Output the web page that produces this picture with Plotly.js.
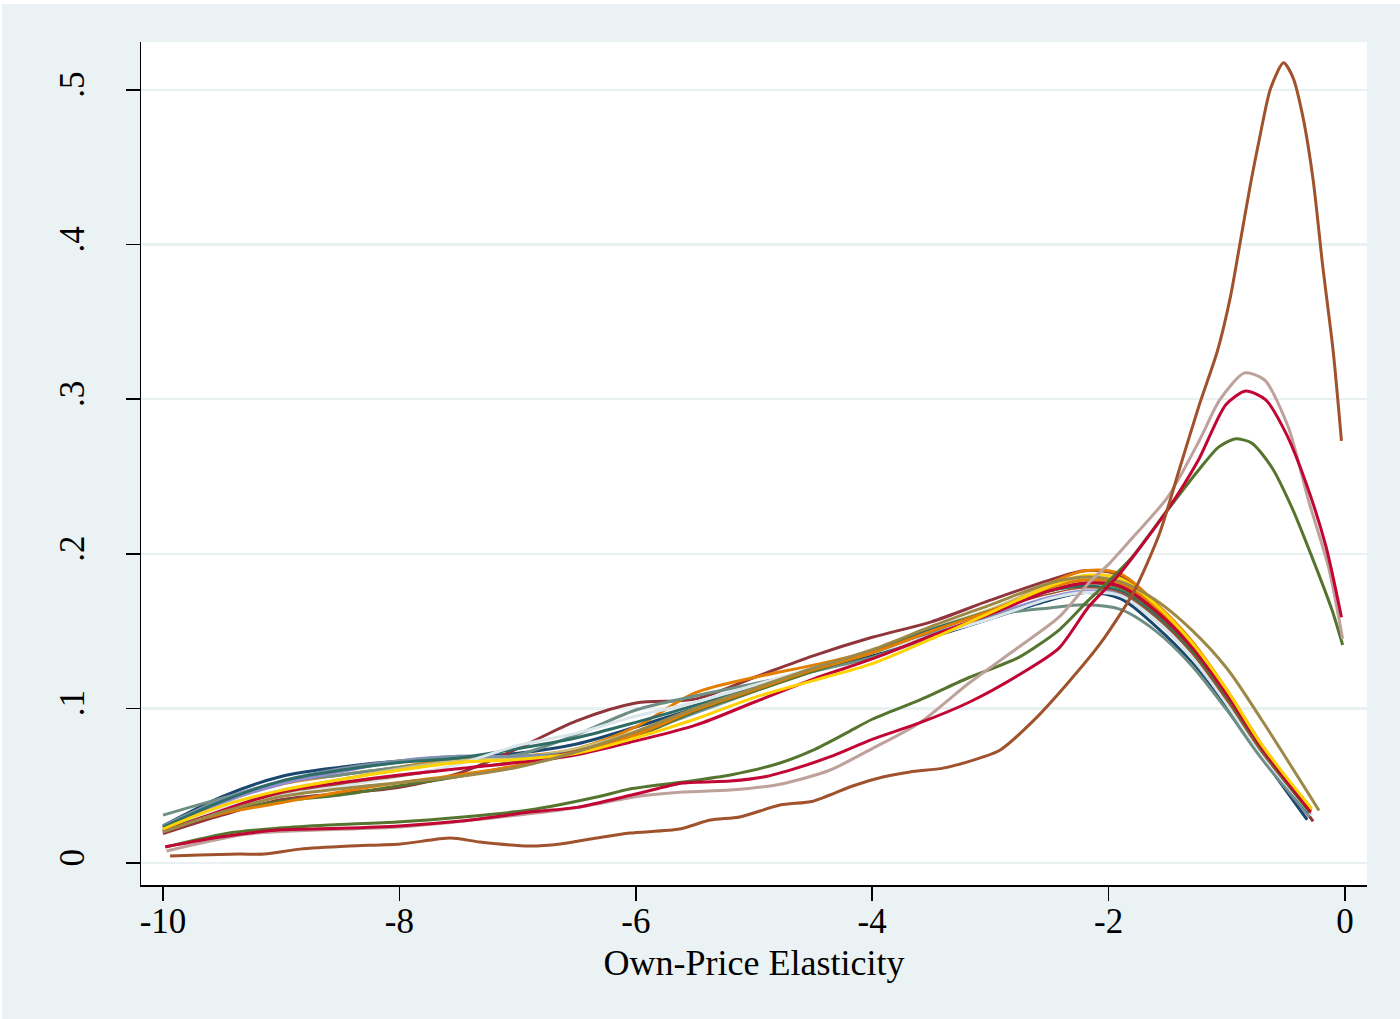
<!DOCTYPE html>
<html>
<head>
<meta charset="utf-8">
<script src="https://cdn.plot.ly/plotly-3.0.1.min.js"></script>
<style>
  html, body { margin: 0; padding: 0; background: #ffffff; }
  #chart { position: absolute; left: 2px; top: 4px; width: 1398px; height: 1015px; }
</style>
</head>
<body>
<div id="chart"></div>
<script>
// ---- Data ----
const xTickVals = [-10, -8, -6, -4, -2, 0];
const xTickText = ['-10', '-8', '-6', '-4', '-2', '0'];
const yTickVals = [0, 0.1, 0.2, 0.3, 0.4, 0.5];
const yTickText = ['0', '.1', '.2', '.3', '.4', '.5'];

// common elasticity grid for the bundled densities (last point replaced by each series' end)
const clusterX = [-10, -9.5, -9, -8.5, -8, -7.5, -7, -6.5, -6, -5.5, -5, -4.5, -4, -3.5, -3, -2.5, -2.2, -1.9, -1.6, -1.3, -1, -0.7, -0.3];

const navyY      = [.024,.043,.056,.062,.066,.068,.071,.077,.088,.100,.112,.124,.134,.146,.158,.170,.175,.171,.153,.130,.100,.068,.028];
const maroonY    = [.019,.031,.041,.045,.049,.058,.074,.092,.1035,.106,.120,.134,.146,.156,.170,.183,.189,.186,.165,.141,.110,.074,.027];
const dkorangeY  = [.023,.041,.051,.057,.062,.068,.069,.074,.088,.110,.120,.128,.137,.151,.163,.181,.189,.187,.168,.144,.112,.076,.034];
const tealY      = [.031,.042,.052,.057,.062,.066,.070,.083,.099,.108,.116,.124,.133,.146,.160,.165,.167,.164,.150,.128,.099,.067,.030];
const lavenderY  = [.022,.039,.051,.059,.066,.069,.069,.072,.082,.098,.112,.126,.136,.148,.160,.172,.176,.174,.158,.135,.104,.070,.031];
const khakiY     = [.021,.037,.047,.054,.061,.066,.068,.074,.085,.099,.113,.125,.137,.151,.164,.179,.183,.180,.164,.141,.110,.074,.033];
const emidblueY  = [.024,.041,.053,.061,.066,.069,.069,.072,.083,.097,.111,.125,.136,.148,.159,.171,.175,.173,.157,.134,.103,.070,.031];
const emeraldY   = [.023,.040,.053,.060,.065,.068,.074,.081,.091,.102,.114,.126,.137,.151,.163,.176,.179,.176,.160,.137,.106,.071,.032];
const brownY     = [.020,.033,.043,.048,.052,.056,.062,.072,.085,.100,.113,.126,.138,.153,.167,.181,.185,.182,.170,.151,.126,.092,.034];
const goldY      = [.022,.037,.047,.054,.060,.065,.067,.071,.081,.093,.107,.118,.129,.145,.162,.179,.186,.184,.167,.143,.112,.076,.035];
const bluishgrayY= [.021,.036,.044,.050,.056,.064,.076,.084,.095,.104,.115,.126,.136,.147,.158,.171,.175,.173,.157,.134,.103,.070,.031];
const cranberry2Y= [.020,.034,.046,.052,.057,.061,.065,.070,.079,.089,.104,.119,.132,.147,.161,.176,.181,.179,.163,.140,.109,.074,.033];
const dkorange2Y = [.021,.032,.039,.046,.052,.057,.063,.072,.083,.099,.112,.125,.136,.150,.163,.178,.183,.181,.165,.142,.110,.075,.034];
const green2Y    = [.021,.033,.040,.044,.050,.056,.063,.071,.082,.098,.111,.124,.136,.150,.163,.176,.181,.178,.162,.139,.108,.073,.033];
const sienna2Y   = [.020,.034,.045,.051,.056,.061,.066,.073,.084,.098,.111,.124,.136,.150,.163,.174,.178,.175,.159,.136,.105,.071,.032];

const clusterSeries = [
  {name: 'navy',       color: '#1a476f', y: navyY,       endX: -0.32, w: 3},
  {name: 'maroon',     color: '#90353b', y: maroonY,     endX: -0.27, w: 3},
  {name: 'dkorange',   color: '#e37e00', y: dkorangeY,   endX: -0.29, w: 3},
  {name: 'teal',       color: '#6e8e84', y: tealY,       endX: -0.30, w: 3},
  {name: 'lavender',   color: '#938dd2', y: lavenderY,   endX: -0.30, w: 3},
  {name: 'khaki',      color: '#cac27e', y: khakiY,      endX: -0.29, w: 3},
  {name: 'emidblue',   color: '#7b92a8', y: emidblueY,   endX: -0.30, w: 3},
  {name: 'emerald',    color: '#2d6d66', y: emeraldY,    endX: -0.30, w: 3},
  {name: 'bluishgray', color: '#d9e6eb', y: bluishgrayY, endX: -0.28, w: 3},
  {name: 'sienna2',    color: '#a0522d', y: sienna2Y,    endX: -0.29, w: 1.5},
  {name: 'green2',     color: '#55752f', y: green2Y,     endX: -0.30, w: 3},
  {name: 'dkorange2',  color: '#e37e00', y: dkorange2Y,  endX: -0.29, w: 3},
  {name: 'cranberry2', color: '#c10534', y: cranberry2Y, endX: -0.29, w: 3},
  {name: 'gold',       color: '#ffd200', y: goldY,       endX: -0.28, w: 3},
  {name: 'brown',      color: '#9c8847', y: brownY,      endX: -0.22, w: 3}
];

// the four densities that peak near zero
const greenX = [-9.98,-9.44,-9.02,-8.6,-8.02,-7.46,-6.9,-6.33,-6.05,-5.6,-5.2,-4.78,-4.5,-4.22,-4.0,-3.6,-3.18,-2.76,-2.42,-2.17,-1.99,-1.80,-1.52,-1.24,-1.07,-0.93,-0.79,-0.62,-0.45,-0.28,-0.11,-0.02];
const greenY = [.0103,.0194,.0226,.0246,.0265,.0298,.0343,.0427,.0479,.0524,.0569,.0647,.073,.084,.093,.1054,.120,.133,.1507,.170,.183,.198,.2264,.254,.269,.2743,.2717,.256,.230,.198,.1636,.141];

const cranberryX = [-9.98,-9.5,-9.0,-8.5,-8.0,-7.5,-7.2,-6.9,-6.5,-6.0,-5.6,-5.2,-4.92,-4.64,-4.36,-4.0,-3.6,-3.18,-2.76,-2.42,-2.17,-1.90,-1.52,-1.24,-1.01,-0.84,-0.67,-0.50,-0.33,-0.16,-0.03];
const cranberryY = [.0105,.017,.0215,.0225,.024,.027,.0298,.033,.036,.0446,.0517,.053,.0556,.0614,.0686,.080,.0906,.104,.1216,.139,.1656,.1876,.2264,.2607,.2963,.3053,.2995,.278,.2458,.2044,.159];

const eroseX = [-9.97,-9.28,-8.0,-7.23,-6.52,-5.96,-5.6,-5.2,-4.78,-4.36,-4.0,-3.6,-3.18,-2.76,-2.42,-2.17,-1.99,-1.79,-1.50,-1.23,-1.06,-0.85,-0.68,-0.48,-0.31,-0.14,-0.02];
const eroseY = [.0078,.0188,.0233,.029,.0356,.0433,.0459,.0472,.051,.060,.074,.0906,.1164,.1397,.159,.181,.194,.211,.2367,.2736,.2995,.317,.3124,.282,.2348,.1915,.145];

const siennaX = [-9.94,-9.69,-9.35,-9.14,-8.84,-8.42,-7.99,-7.57,-7.32,-6.90,-6.64,-6.33,-6.05,-5.63,-5.37,-5.12,-4.78,-4.50,-4.16,-3.91,-3.68,-3.40,-3.20,-2.92,-2.64,-2.35,-2.07,-1.79,-1.57,-1.40,-1.23,-1.08,-0.97,-0.89,-0.80,-0.72,-0.63,-0.52,-0.44,-0.36,-0.27,-0.19,-0.10,-0.03];
const siennaY = [.0045,.0052,.0058,.0058,.009,.011,.0123,.0162,.0136,.011,.0123,.0162,.0194,.022,.0278,.0298,.0375,.040,.050,.0556,.0589,.0614,.0653,.073,.0918,.116,.142,.175,.213,.255,.297,.331,.366,.400,.439,.470,.501,.5175,.508,.484,.442,.387,.331,.273];

const specialSeries = [
  {name: 'forest_green', color: '#55752f', x: greenX,     y: greenY},
  {name: 'erose',        color: '#bfa19c', x: eroseX,     y: eroseY},
  {name: 'cranberry',    color: '#c10534', x: cranberryX, y: cranberryY},
  {name: 'sienna',       color: '#a0522d', x: siennaX,    y: siennaY}
];

// ---- Traces ----
const traces = [];
clusterSeries.forEach(s => {
  const xs = clusterX.slice();
  xs[xs.length - 1] = s.endX;
  traces.push({
    type: 'scatter', mode: 'lines', name: s.name,
    x: xs, y: s.y,
    line: {color: s.color, width: s.w, shape: 'spline', smoothing: 0.9},
    hoverinfo: 'skip', showlegend: false
  });
});
specialSeries.forEach(s => {
  traces.push({
    type: 'scatter', mode: 'lines', name: s.name,
    x: s.x, y: s.y,
    line: {color: s.color, width: 3, shape: 'spline', smoothing: 0.7},
    hoverinfo: 'skip', showlegend: false
  });
});

const serif = '"Liberation Serif", "DejaVu Serif", serif';

const layout = {
  width: 1398, height: 1015,
  paper_bgcolor: '#eaf2f3',
  plot_bgcolor: '#ffffff',
  margin: {l: 139, r: 33, t: 38, b: 134, pad: 0},
  showlegend: false,
  font: {family: serif, color: '#000000'},
  xaxis: {
    range: [-10.186, 0.186],
    tickmode: 'array', tickvals: xTickVals, ticktext: xTickText,
    ticks: 'outside', ticklen: 14, tickwidth: 1.5, tickcolor: '#000000',
    ticklabelstandoff: -10,
    showline: true, linecolor: '#000000', linewidth: 1.5,
    showgrid: false, zeroline: false,
    tickfont: {family: serif, size: 35, color: '#000000'},
    title: {text: 'Own-Price Elasticity', font: {family: serif, size: 36, color: '#000000'}, standoff: 10}
  },
  yaxis: {
    range: [-0.0142, 0.531],
    tickmode: 'array', tickvals: yTickVals, ticktext: yTickText,
    tickangle: -90,
    ticks: 'outside', ticklen: 14, tickwidth: 1.5, tickcolor: '#000000',
    ticklabelstandoff: 28,
    showline: true, linecolor: '#000000', linewidth: 1.5,
    showgrid: true, gridcolor: '#e8f0f2', gridwidth: 2.5,
    zeroline: false,
    tickfont: {family: serif, size: 35, color: '#000000'}
  }
};

Plotly.newPlot('chart', traces, layout, {displayModeBar: false, staticPlot: true});
</script>
</body>
</html>
